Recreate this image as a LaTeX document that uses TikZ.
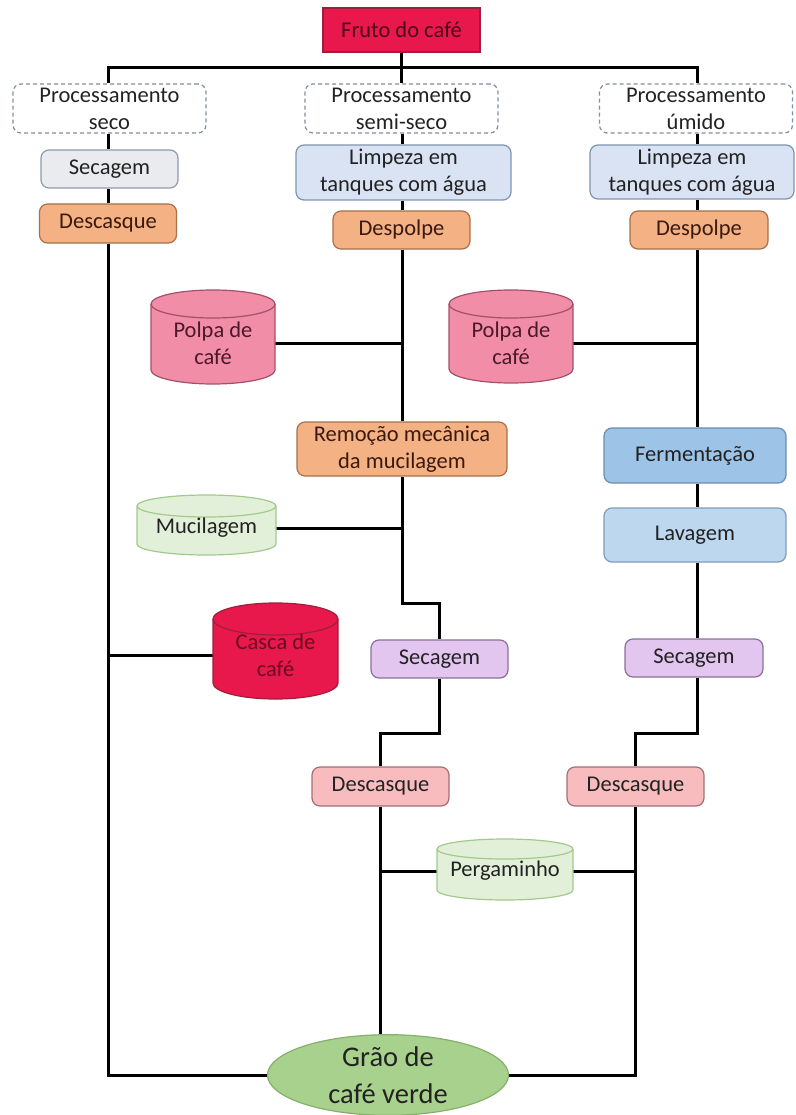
\documentclass[tikz,border=0pt]{standalone}
\usepackage{fontspec}
\setmainfont{Carlito}
\usetikzlibrary{shapes.geometric,backgrounds}

% palette
\definecolor{ink}{HTML}{222222}
\definecolor{frutoFill}{HTML}{E8174C}
\definecolor{frutoLine}{HTML}{9E1F3B}
\definecolor{frutoInk}{HTML}{4A0A18}
\definecolor{dashLine}{HTML}{7F8FA0}
\definecolor{greyFill}{HTML}{E9EBEE}
\definecolor{greyLine}{HTML}{8C9BAE}
\definecolor{orangeFill}{HTML}{F4B183}
\definecolor{orangeLine}{HTML}{A8704B}
\definecolor{orangeInk}{HTML}{3A1A10}
\definecolor{paleBlueFill}{HTML}{DAE3F3}
\definecolor{paleBlueLine}{HTML}{7F94AE}
\definecolor{pinkFill}{HTML}{F28DA8}
\definecolor{pinkLine}{HTML}{A4506A}
\definecolor{pinkInk}{HTML}{4A1A2A}
\definecolor{greenFill}{HTML}{E2F0D9}
\definecolor{greenLine}{HTML}{A3C98B}
\definecolor{fermFill}{HTML}{9DC3E6}
\definecolor{fermLine}{HTML}{6A8DB0}
\definecolor{lavFill}{HTML}{BDD7EE}
\definecolor{lavLine}{HTML}{7E9CBB}
\definecolor{cascaInk}{HTML}{6B0B22}
\definecolor{lilacFill}{HTML}{E3C6F0}
\definecolor{lilacLine}{HTML}{8A7098}
\definecolor{roseFill}{HTML}{F8BCBF}
\definecolor{roseLine}{HTML}{A07073}
\definecolor{beanFill}{HTML}{A9D18E}
\definecolor{beanLine}{HTML}{86AF6C}

\tikzset{
  every node/.style={font=\fontsize{22.5}{27}\selectfont, align=center, inner sep=0pt, text=ink},
  link/.style={line width=3pt, black},
  box/.style={rectangle, rounded corners=8pt, line width=1.2pt},
  route/.style={rectangle, rounded corners=8pt, draw=dashLine, line width=1.2pt,
                dash pattern=on 4pt off 3pt, minimum width=193pt, minimum height=49pt},
  source/.style={rectangle, fill=frutoFill, draw=frutoLine, line width=1.2pt, text=frutoInk},
  greybox/.style={box, fill=greyFill, draw=greyLine},
  orangebox/.style={box, fill=orangeFill, draw=orangeLine, text=orangeInk},
  washbox/.style={box, fill=paleBlueFill, draw=paleBlueLine},
  fermbox/.style={box, fill=fermFill, draw=fermLine},
  lavbox/.style={box, fill=lavFill, draw=lavLine},
  lilacbox/.style={box, fill=lilacFill, draw=lilacLine},
  rosebox/.style={box, fill=roseFill, draw=roseLine},
  polpa/.style={fill=pinkFill, draw=pinkLine, line width=1.2pt},
  polpa text/.style={text=pinkInk},
  gdrum/.style={fill=greenFill, draw=greenLine, line width=1.2pt},
  gdrum text/.style={text=ink},
  casca/.style={fill=frutoFill, draw=frutoLine, line width=1.2pt},
  casca text/.style={text=cascaInk},
  bean/.style={ellipse, fill=beanFill, draw=beanLine, line width=1.2pt,
               font=\fontsize{28.5}{37}\selectfont},
}

% storage drum: #1 name, #2 centre x, #3 top y, #4 bottom y, #5 width,
% #6 rim half-height, #7 look, #8 label y, #9 text
\newcommand\drum[9]{%
  \path[#7] ({#2-#5/2},{-#3-#6}) -- ({#2-#5/2},{-#4+#6})
    arc[start angle=180,end angle=360,x radius={#5/2},y radius=#6]
    -- ({#2+#5/2},{-#3-#6})
    arc[start angle=0,end angle=180,x radius={#5/2},y radius=#6] -- cycle;
  \draw[#7,fill=none] ({#2-#5/2},{-#3-#6})
    arc[start angle=180,end angle=360,x radius={#5/2},y radius=#6];
  \node[#7 text, minimum width=#5, minimum height={#4-#3}] (#1) at (#2,-#8) {#9};
}

\begin{document}
\begin{tikzpicture}[x=1pt,y=1pt]
\useasboundingbox (0,0) rectangle (795,-1115);

% column and turning lines
\coordinate (colA) at (108,0);
\coordinate (colB) at (402,0);
\coordinate (colC) at (697,0);
\coordinate (bar)  at (0,-68);
\coordinate (jogU) at (0,-603);
\coordinate (jogL) at (0,-733);

% top
\node[source, minimum width=157, minimum height=44] (fruto) at (401.5,-30) {Fruto do café};
\node[route] (seco)  at (109.5,-108.5) {Processamento\\seco};
\node[route] (semi)  at (401.5,-108.5) {Processamento\\semi-seco};
\node[route] (umido) at (696,-108.5)   {Processamento\\úmido};

% dry route
\node[greybox, minimum width=137, minimum height=38] (secA) at (109.5,-169) {Secagem};
\node[orangebox, minimum width=137, minimum height=39] (descA) at (108,-223.5) {Descasque};
\drum{casca}{275.5}{603}{699}{125}{16}{casca}{655}{Casca de\\café}

% semi-dry route
\node[washbox, minimum width=215, minimum height=55] (limpB) at (403.5,-172.5) {Limpeza em\\tanques com água};
\node[orangebox, minimum width=137, minimum height=38] (despB) at (401.5,-230) {Despolpe};
\drum{polpaB}{213}{290}{384}{124}{14}{polpa}{343}{Polpa de\\café}
\node[orangebox, minimum width=210, minimum height=54] (remocao) at (402,-449) {Remoção mecânica\\da mucilagem};
\drum{mucil}{206.5}{495}{555}{139}{11}{gdrum}{528}{Mucilagem}
\node[lilacbox, minimum width=137, minimum height=38] (secB) at (439.5,-659) {Secagem};
\node[rosebox, minimum width=137, minimum height=39] (descB) at (380.5,-786.5) {Descasque};

% wet route
\node[washbox, minimum width=204, minimum height=54] (limpC) at (692,-172) {Limpeza em\\tanques com água};
\node[orangebox, minimum width=138, minimum height=38] (despC) at (699,-230) {Despolpe};
\drum{polpaC}{511}{290}{383}{124}{14}{polpa}{343}{Polpa de\\café}
\node[fermbox, minimum width=182, minimum height=55] (ferm) at (695,-455.5) {Fermentação};
\node[lavbox, minimum width=182, minimum height=54] (lavag) at (695,-535) {Lavagem};
\node[lilacbox, minimum width=138, minimum height=38] (secC) at (694,-658) {Secagem};
\node[rosebox, minimum width=137, minimum height=39] (descC) at (635.5,-786.5) {Descasque};

% shared
\drum{perg}{505}{839}{900}{136}{10}{gdrum}{871}{Pergaminho}
\node[bean, minimum width=241, minimum height=78] (grao) at (388,-1075) {Grão de\\café verde};

\begin{pgfonlayer}{background}
  % split into the three routes
  \draw[link] (fruto.south) -- (semi.north);
  \draw[link] (seco.north -| colA) -- (colA |- bar) -- (colC |- bar) -- (umido.north -| colC);

  % dry route
  \draw[link] (seco.south -| colA) -- (secA.north -| colA);
  \draw[link] (secA.south -| colA) -- (descA.north -| colA);
  \draw[link] (descA.south -| colA) -- (colA |- grao.west) -- (grao.west);
  \draw[link] (casca.west) -- (casca.west -| colA);

  % semi-dry route
  \draw[link] (semi.south -| colB) -- (limpB.north -| colB);
  \draw[link] (limpB.south -| colB) -- (despB.north -| colB);
  \draw[link] (despB.south -| colB) -- (remocao.north -| colB);
  \draw[link] (polpaB.east) -- (polpaB.east -| colB);
  \draw[link] (remocao.south -| colB) -- (colB |- jogU) -- (secB.north |- jogU) -- (secB.north);
  \draw[link] (mucil.east) -- (mucil.east -| colB);
  \draw[link] (secB.south) -- (secB.south |- jogL) -- (descB.north |- jogL) -- (descB.north);
  \draw[link] (descB.south) -- (descB.south |- grao.north);
  \draw[link] (perg.west) -- (perg.west -| descB.south);

  % wet route
  \draw[link] (umido.south -| colC) -- (limpC.north -| colC);
  \draw[link] (limpC.south -| colC) -- (despC.north -| colC);
  \draw[link] (despC.south -| colC) -- (ferm.north -| colC);
  \draw[link] (polpaC.east) -- (polpaC.east -| colC);
  \draw[link] (ferm.south -| colC) -- (lavag.north -| colC);
  \draw[link] (lavag.south -| colC) -- (secC.north -| colC);
  \draw[link] (secC.south -| colC) -- (colC |- jogL) -- (descC.north |- jogL) -- (descC.north);
  \draw[link] (descC.south) -- (descC.south |- grao.east) -- (grao.east);
  \draw[link] (perg.east) -- (perg.east -| descC.south);
\end{pgfonlayer}
\end{tikzpicture}
\end{document}
